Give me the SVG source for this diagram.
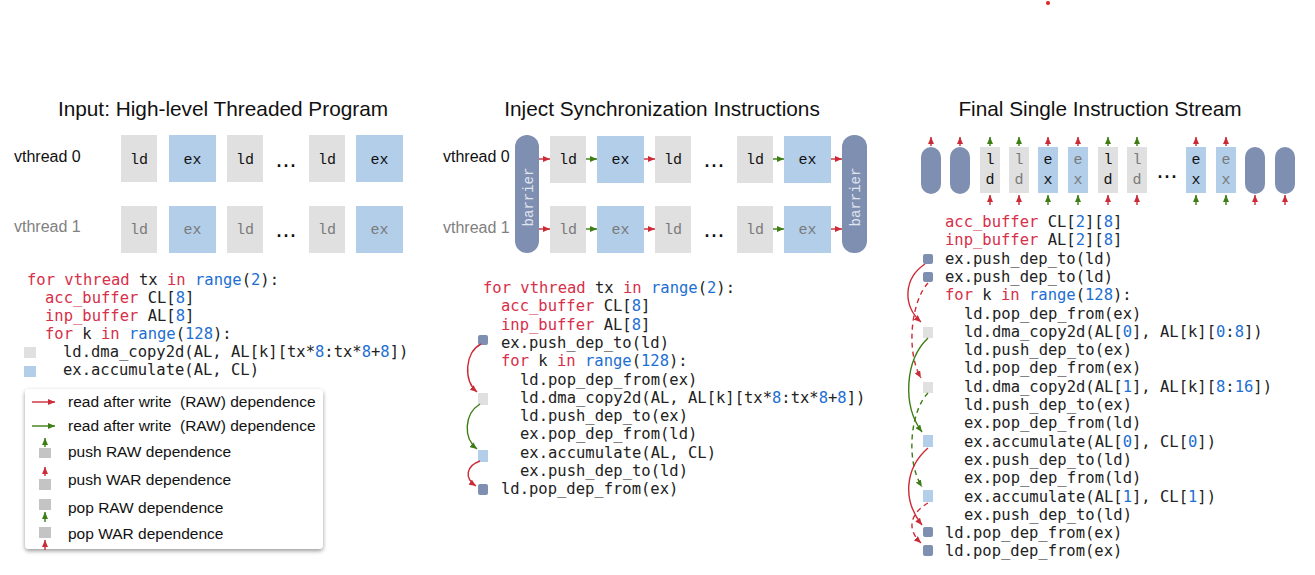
<svg xmlns="http://www.w3.org/2000/svg" width="1315" height="575" viewBox="0 0 1315 575">
<defs>
<style>
.ttl{font-family:"Liberation Sans",Arial,sans-serif;font-size:20.8px;fill:#111;text-anchor:middle}
.vt{font-family:"Liberation Sans",Arial,sans-serif;font-size:16px}
.v0{fill:#111}.v1{fill:#808080}
.lg{font-family:"Liberation Sans",Arial,sans-serif;font-size:15.5px;fill:#111}
.code{font-family:"DejaVu Sans Mono",monospace;font-size:15.5px;fill:#222}
.k{fill:#d6304a}.n{fill:#1d6fd3}
.bld{fill:#e0e0e0}.bex{fill:#b2cee9}.bar{fill:#7f8fb1}.sq{fill:#c4c4c4}
.lbl{font-family:"Liberation Mono",monospace;font-size:15px;text-anchor:middle}
.l0{fill:#111}.l1{fill:#7a7a7a}
.bt{font-family:"Liberation Mono",monospace;font-size:14px;fill:#dfe4ee;text-anchor:middle}
.dots{font-family:"Liberation Sans",Arial,sans-serif;font-size:25px;fill:#111;text-anchor:middle}
.ar{fill:none;stroke:#cc2a36;stroke-width:1.4}
.ag{fill:none;stroke:#3d7d14;stroke-width:1.4}
.da{stroke-dasharray:5,4}
</style>
<marker id="mr" markerUnits="userSpaceOnUse" markerWidth="7" markerHeight="6" refX="7" refY="3" orient="auto"><path d="M0,0 L7,3 L0,6 z" fill="#cc2a36"/></marker>
<marker id="mg" markerUnits="userSpaceOnUse" markerWidth="7" markerHeight="6" refX="7" refY="3" orient="auto"><path d="M0,0 L7,3 L0,6 z" fill="#3d7d14"/></marker>
<filter id="sh" x="-10%" y="-10%" width="120%" height="125%"><feDropShadow dx="0" dy="2" stdDeviation="2" flood-color="#000" flood-opacity="0.4"/></filter>
</defs>
<rect width="1315" height="575" fill="#fff"/>
<circle cx="1048" cy="3" r="2" fill="#e02020"/>

<!-- Panel 1 -->
<g id="panel1">
<text class="ttl" x="223" y="116">Input: High-level Threaded Program</text>
<text class="vt v0" x="14" y="162">vthread 0</text>
<text class="vt v1" x="14" y="232">vthread 1</text>
<g id="p1-r0">
<rect class="bld" x="121" y="135" width="36" height="47"/><text class="lbl l0" x="139" y="164">ld</text>
<rect class="bex" x="169" y="135" width="47" height="47"/><text class="lbl l0" x="192.5" y="164">ex</text>
<rect class="bld" x="227" y="135" width="36" height="47"/><text class="lbl l0" x="245" y="164">ld</text>
<text class="dots" x="286" y="167">...</text>
<rect class="bld" x="309" y="135" width="36" height="47"/><text class="lbl l0" x="327" y="164">ld</text>
<rect class="bex" x="356" y="135" width="47" height="47"/><text class="lbl l0" x="379.5" y="164">ex</text>
</g>
<g id="p1-r1">
<rect class="bld" x="121" y="206" width="36" height="47"/><text class="lbl l1" x="139" y="234">ld</text>
<rect class="bex" x="169" y="206" width="47" height="47"/><text class="lbl l1" x="192.5" y="234">ex</text>
<rect class="bld" x="227" y="206" width="36" height="47"/><text class="lbl l1" x="245" y="234">ld</text>
<text class="dots" x="286" y="237">...</text>
<rect class="bld" x="309" y="206" width="36" height="47"/><text class="lbl l1" x="327" y="234">ld</text>
<rect class="bex" x="356" y="206" width="47" height="47"/><text class="lbl l1" x="379.5" y="234">ex</text>
</g>
<g id="p1-code" class="code" xml:space="preserve">
<text x="27" y="285"><tspan class="k">for vthread</tspan> tx <tspan class="k">in</tspan> <tspan class="n">range</tspan>(<tspan class="n">2</tspan>):</text>
<text x="45" y="303"><tspan class="k">acc_buffer</tspan> CL[<tspan class="n">8</tspan>]</text>
<text x="45" y="321"><tspan class="k">inp_buffer</tspan> AL[<tspan class="n">8</tspan>]</text>
<text x="45" y="339"><tspan class="k">for</tspan> k <tspan class="k">in</tspan> <tspan class="n">range</tspan>(<tspan class="n">128</tspan>):</text>
<text x="63" y="357">ld.dma_copy2d(AL, AL[k][tx*<tspan class="n">8</tspan>:tx*<tspan class="n">8</tspan>+<tspan class="n">8</tspan>])</text>
<text x="63" y="375">ex.accumulate(AL, CL)</text>
</g>
<rect class="bld" x="24" y="347" width="12" height="11"/>
<rect class="bex" x="24" y="366" width="12" height="11"/>
</g>

<!-- Legend -->
<g id="legend">
<rect x="25" y="389" width="298" height="160" rx="4" fill="#fff" filter="url(#sh)"/>
<line class="ar" x1="32" y1="402" x2="55" y2="402" marker-end="url(#mr)"/>
<text class="lg" x="68" y="407" xml:space="preserve">read after write  (RAW) dependence</text>
<line class="ag" x1="32" y1="426" x2="55" y2="426" marker-end="url(#mg)"/>
<text class="lg" x="68" y="431" xml:space="preserve">read after write  (RAW) dependence</text>
<line class="ag" x1="45" y1="447" x2="45" y2="438" marker-end="url(#mg)"/>
<rect class="sq" x="39" y="448" width="12" height="10"/>
<text class="lg" x="68" y="457">push RAW dependence</text>
<line class="ar" x1="45" y1="476" x2="45" y2="467" marker-end="url(#mr)"/>
<rect class="sq" x="39" y="479" width="12" height="11"/>
<text class="lg" x="68" y="485">push WAR dependence</text>
<rect class="sq" x="39" y="499" width="12" height="11"/>
<line class="ag" x1="45" y1="522" x2="45" y2="512" marker-end="url(#mg)"/>
<text class="lg" x="68" y="513">pop RAW dependence</text>
<rect class="sq" x="39" y="527" width="12" height="11"/>
<line class="ar" x1="45" y1="550" x2="45" y2="540" marker-end="url(#mr)"/>
<text class="lg" x="68" y="539">pop WAR dependence</text>
</g>

<!-- Panel 2 -->
<g id="panel2">
<text class="ttl" x="662" y="116">Inject Synchronization Instructions</text>
<text class="vt v0" x="443" y="162">vthread 0</text>
<text class="vt v1" x="443" y="233">vthread 1</text>
<g id="barrier-left"><rect class="bar" x="515" y="135" width="24" height="118" rx="12"/><text class="bt" transform="translate(533,197) rotate(-90)">barrier</text></g>
<g id="barrier-right"><rect class="bar" x="842" y="135" width="25" height="118" rx="12"/><text class="bt" transform="translate(860,197) rotate(-90)">barrier</text></g>
<g id="p2-r0">
<rect class="bld" x="550" y="136" width="36" height="47"/><text class="lbl l0" x="568" y="164">ld</text>
<rect class="bex" x="597" y="136" width="47" height="47"/><text class="lbl l0" x="620.5" y="164">ex</text>
<rect class="bld" x="655" y="136" width="36" height="47"/><text class="lbl l0" x="673" y="164">ld</text>
<text class="dots" x="714" y="167">...</text>
<rect class="bld" x="737" y="136" width="36" height="47"/><text class="lbl l0" x="755" y="164">ld</text>
<rect class="bex" x="784" y="136" width="47" height="47"/><text class="lbl l0" x="807.5" y="164">ex</text>
</g>
<g id="p2-r1">
<rect class="bld" x="550" y="206" width="36" height="47"/><text class="lbl l1" x="568" y="234">ld</text>
<rect class="bex" x="597" y="206" width="47" height="47"/><text class="lbl l1" x="620.5" y="234">ex</text>
<rect class="bld" x="655" y="206" width="36" height="47"/><text class="lbl l1" x="673" y="234">ld</text>
<text class="dots" x="714" y="237">...</text>
<rect class="bld" x="737" y="206" width="36" height="47"/><text class="lbl l1" x="755" y="234">ld</text>
<rect class="bex" x="784" y="206" width="47" height="47"/><text class="lbl l1" x="807.5" y="234">ex</text>
</g>
<g id="p2-code" class="code" xml:space="preserve">
<text x="483" y="293"><tspan class="k">for vthread</tspan> tx <tspan class="k">in</tspan> <tspan class="n">range</tspan>(<tspan class="n">2</tspan>):</text>
<text x="501" y="311.3"><tspan class="k">acc_buffer</tspan> CL[<tspan class="n">8</tspan>]</text>
<text x="501" y="329.6"><tspan class="k">inp_buffer</tspan> AL[<tspan class="n">8</tspan>]</text>
<text x="501" y="347.9">ex.push_dep_to(ld)</text>
<text x="501" y="366.2"><tspan class="k">for</tspan> k <tspan class="k">in</tspan> <tspan class="n">range</tspan>(<tspan class="n">128</tspan>):</text>
<text x="520" y="384.5">ld.pop_dep_from(ex)</text>
<text x="520" y="402.8">ld.dma_copy2d(AL, AL[k][tx*<tspan class="n">8</tspan>:tx*<tspan class="n">8</tspan>+<tspan class="n">8</tspan>])</text>
<text x="520" y="421.1">ld.push_dep_to(ex)</text>
<text x="520" y="439.4">ex.pop_dep_from(ld)</text>
<text x="520" y="457.7">ex.accumulate(AL, CL)</text>
<text x="520" y="476">ex.push_dep_to(ld)</text>
<text x="501" y="494.3">ld.pop_dep_from(ex)</text>
</g>
<rect class="bar" x="478" y="335" width="10" height="10" rx="2"/>
<rect class="bld" x="478" y="393" width="10" height="12"/>
<rect class="bex" x="478" y="450" width="10" height="12"/>
<rect class="bar" x="478" y="484" width="10" height="11" rx="2"/>
</g>

<!-- Panel 3 -->
<g id="panel3">
<text class="ttl" x="1100" y="116">Final Single Instruction Stream</text>
<rect class="bar" x="921" y="147" width="20" height="47" rx="10"/>
<rect class="bar" x="950" y="147" width="20" height="47" rx="10"/>
<rect class="bld" x="980" y="147" width="20" height="46"/><text class="lbl l0" x="990" y="164">l</text><text class="lbl l0" x="990" y="184">d</text>
<rect class="bld" x="1009" y="147" width="20" height="46"/><text class="lbl l1" x="1019" y="164">l</text><text class="lbl l1" x="1019" y="184">d</text>
<rect class="bex" x="1038" y="147" width="20" height="46"/><text class="lbl l0" x="1048" y="164">e</text><text class="lbl l0" x="1048" y="184">x</text>
<rect class="bex" x="1068" y="147" width="20" height="46"/><text class="lbl l1" x="1078" y="164">e</text><text class="lbl l1" x="1078" y="184">x</text>
<rect class="bld" x="1098" y="147" width="20" height="46"/><text class="lbl l0" x="1108" y="164">l</text><text class="lbl l0" x="1108" y="184">d</text>
<rect class="bld" x="1127" y="147" width="20" height="46"/><text class="lbl l1" x="1137" y="164">l</text><text class="lbl l1" x="1137" y="184">d</text>
<text class="dots" x="1167" y="178">...</text>
<rect class="bex" x="1186" y="147" width="20" height="46"/><text class="lbl l0" x="1196" y="164">e</text><text class="lbl l0" x="1196" y="184">x</text>
<rect class="bex" x="1216" y="147" width="20" height="46"/><text class="lbl l1" x="1226" y="164">e</text><text class="lbl l1" x="1226" y="184">x</text>
<rect class="bar" x="1245" y="147" width="20" height="47" rx="10"/>
<rect class="bar" x="1275" y="147" width="20" height="47" rx="10"/>
<g id="p3-code" class="code" xml:space="preserve">
<text x="945" y="227"><tspan class="k">acc_buffer</tspan> CL[<tspan class="n">2</tspan>][<tspan class="n">8</tspan>]</text>
<text x="945" y="245.3"><tspan class="k">inp_buffer</tspan> AL[<tspan class="n">2</tspan>][<tspan class="n">8</tspan>]</text>
<text x="945" y="263.6">ex.push_dep_to(ld)</text>
<text x="945" y="281.9">ex.push_dep_to(ld)</text>
<text x="945" y="300.2"><tspan class="k">for</tspan> k <tspan class="k">in</tspan> <tspan class="n">range</tspan>(<tspan class="n">128</tspan>):</text>
<text x="964" y="318.5">ld.pop_dep_from(ex)</text>
<text x="964" y="336.8">ld.dma_copy2d(AL[<tspan class="n">0</tspan>], AL[k][<tspan class="n">0</tspan>:<tspan class="n">8</tspan>])</text>
<text x="964" y="355.1">ld.push_dep_to(ex)</text>
<text x="964" y="373.4">ld.pop_dep_from(ex)</text>
<text x="964" y="391.7">ld.dma_copy2d(AL[<tspan class="n">1</tspan>], AL[k][<tspan class="n">8</tspan>:<tspan class="n">16</tspan>])</text>
<text x="964" y="410">ld.push_dep_to(ex)</text>
<text x="964" y="428.3">ex.pop_dep_from(ld)</text>
<text x="964" y="446.6">ex.accumulate(AL[<tspan class="n">0</tspan>], CL[<tspan class="n">0</tspan>])</text>
<text x="964" y="464.9">ex.push_dep_to(ld)</text>
<text x="964" y="483.2">ex.pop_dep_from(ld)</text>
<text x="964" y="501.5">ex.accumulate(AL[<tspan class="n">1</tspan>], CL[<tspan class="n">1</tspan>])</text>
<text x="964" y="519.8">ex.push_dep_to(ld)</text>
<text x="945" y="538.1">ld.pop_dep_from(ex)</text>
<text x="945" y="556.4">ld.pop_dep_from(ex)</text>
</g>
<rect class="bar" x="923" y="254" width="10" height="10" rx="2"/>
<rect class="bar" x="923" y="272" width="10" height="10" rx="2"/>
<rect class="bld" x="923" y="327" width="10" height="11"/>
<rect class="bld" x="923" y="382" width="10" height="11"/>
<rect class="bex" x="923" y="435" width="10" height="12"/>
<rect class="bex" x="923" y="490" width="10" height="12"/>
<rect class="bar" x="923" y="527" width="10" height="10" rx="2"/>
<rect class="bar" x="923" y="545" width="10" height="11" rx="2"/>
</g>

<g id="connectors">
<line class="ar" x1="539" y1="159" x2="550" y2="159" marker-end="url(#mr)"/>
<line class="ag" x1="586" y1="159" x2="597" y2="159" marker-end="url(#mg)"/>
<line class="ar" x1="644" y1="159" x2="655" y2="159" marker-end="url(#mr)"/>
<line class="ag" x1="773" y1="159" x2="784" y2="159" marker-end="url(#mg)"/>
<line class="ar" x1="831" y1="159" x2="842" y2="159" marker-end="url(#mr)"/>
<line class="ar" x1="539" y1="229" x2="550" y2="229" marker-end="url(#mr)"/>
<line class="ag" x1="586" y1="229" x2="597" y2="229" marker-end="url(#mg)"/>
<line class="ar" x1="644" y1="229" x2="655" y2="229" marker-end="url(#mr)"/>
<line class="ag" x1="773" y1="229" x2="784" y2="229" marker-end="url(#mg)"/>
<line class="ar" x1="831" y1="229" x2="842" y2="229" marker-end="url(#mr)"/>
<path class="ar" d="M481,344 C465,352 463,380 477,392" marker-end="url(#mr)"/>
<path class="ag" d="M480,404 C464,414 463,438 477,449" marker-end="url(#mg)"/>
<path class="ar" d="M480,461 C466,466 464,478 476,486" marker-end="url(#mr)"/>
<line class="ar" x1="931" y1="146" x2="931" y2="137" marker-end="url(#mr)"/>
<line class="ar" x1="960" y1="146" x2="960" y2="137" marker-end="url(#mr)"/>
<line class="ag" x1="990" y1="146" x2="990" y2="137" marker-end="url(#mg)"/>
<line class="ag" x1="1019" y1="146" x2="1019" y2="137" marker-end="url(#mg)"/>
<line class="ar" x1="1048" y1="146" x2="1048" y2="137" marker-end="url(#mr)"/>
<line class="ar" x1="1078" y1="146" x2="1078" y2="137" marker-end="url(#mr)"/>
<line class="ag" x1="1108" y1="146" x2="1108" y2="137" marker-end="url(#mg)"/>
<line class="ag" x1="1137" y1="146" x2="1137" y2="137" marker-end="url(#mg)"/>
<line class="ar" x1="1196" y1="146" x2="1196" y2="137" marker-end="url(#mr)"/>
<line class="ar" x1="1226" y1="146" x2="1226" y2="137" marker-end="url(#mr)"/>
<line class="ar" x1="990" y1="205" x2="990" y2="195" marker-end="url(#mr)"/>
<line class="ar" x1="1019" y1="205" x2="1019" y2="195" marker-end="url(#mr)"/>
<line class="ag" x1="1048" y1="205" x2="1048" y2="195" marker-end="url(#mg)"/>
<line class="ag" x1="1078" y1="205" x2="1078" y2="195" marker-end="url(#mg)"/>
<line class="ar" x1="1108" y1="205" x2="1108" y2="195" marker-end="url(#mr)"/>
<line class="ar" x1="1137" y1="205" x2="1137" y2="195" marker-end="url(#mr)"/>
<line class="ag" x1="1196" y1="205" x2="1196" y2="195" marker-end="url(#mg)"/>
<line class="ag" x1="1226" y1="205" x2="1226" y2="195" marker-end="url(#mg)"/>
<line class="ar" x1="1255" y1="205" x2="1255" y2="195" marker-end="url(#mr)"/>
<line class="ar" x1="1285" y1="205" x2="1285" y2="195" marker-end="url(#mr)"/>
<path class="ar" d="M925,264 C904,278 902,305 921,322" marker-end="url(#mr)"/>
<path class="ar da" d="M928,283 C912,300 905,350 921,378" marker-end="url(#mr)"/>
<path class="ag" d="M928,338 C905,360 902,405 922,432" marker-end="url(#mg)"/>
<path class="ag da" d="M928,393 C911,410 905,460 922,487" marker-end="url(#mg)"/>
<path class="ar" d="M928,448 C905,468 902,500 922,525" marker-end="url(#mr)"/>
<path class="ar da" d="M928,503 C912,512 905,528 921,543" marker-end="url(#mr)"/>
</g>
</svg>
